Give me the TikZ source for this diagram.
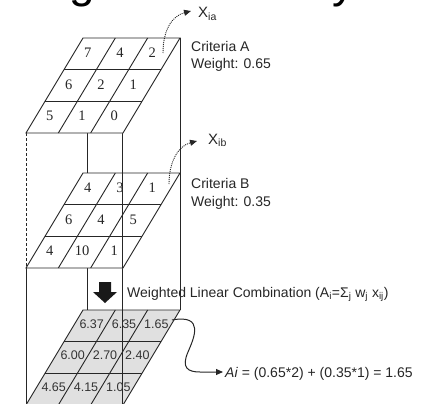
\documentclass[tikz,border=0pt]{standalone}
\usepackage{fontspec}
\setmainfont{Liberation Sans}
\newfontfamily\numserif{Liberation Serif}
\usetikzlibrary{arrows.meta}
\newcommand\gridlayer[2]{%
  \filldraw[gridline,fill=#2] (83,#1) -- ++(97,0) -- ++(-57,95) -- ++(-97,0) -- cycle;
  \foreach \k in {1,2} {
    \draw[gridline] (83-19*\k,#1+95*\k/3) -- ++(97,0);
    \draw[gridline] (83+97*\k/3,#1) -- ++(-57,95);
  }%
}
\begin{document}
\begin{tikzpicture}[x=1pt,y=-1pt,
  gridline/.style={line width=0.9pt,black!85},
  boxline/.style={line width=0.9pt,black!85},
  lbl/.style={anchor=base west,inner sep=0pt,font=\fontsize{14}{17}\selectfont,text=black!85},
  sernum/.style={inner sep=0pt,font=\numserif\fontsize{14.5}{15}\selectfont,text=black!85},
  sansnum/.style={inner sep=0pt,font=\fontsize{12.5}{13}\selectfont,text=black!80},
  curvy/.style={line width=1pt,black!85,-{Triangle[length=7pt,width=6pt]}}]
\useasboundingbox (0,0) rectangle (423,404);
\clip (0,0) rectangle (423,404);

% title fragment cut off at the top
\node[anchor=base west,inner sep=0pt,font=\fontsize{46}{46}\selectfont] (title) at (-9,-2.7) {Weighted Overlay};

% box edges
\draw[boxline] (180,38) -- (180,310);
\draw[boxline] (122,133) -- (122,404);
\draw[boxline,densely dashed] (26,133) -- (26,268);
\draw[boxline] (26,268) -- (26,404);
\draw[boxline] (87,133) -- (87,173);
\draw[boxline] (87,268) -- (87,310);

% layer A
\gridlayer{38}{white}
% layer B
\gridlayer{173}{white}
\draw[boxline] (122,173) -- (122,268);
% layer C
\gridlayer{310}{black!12}
\draw[boxline] (122,310) -- (122,404);

% numbers
\foreach \v [count=\i from 0] in {7,4,2,6,2,1,5,1,0} {
  \pgfmathtruncatemacro\r{int(\i/3)}
  \pgfmathtruncatemacro\c{mod(\i,3)}
  \node[sernum] (A-\r-\c) at ({81+97*(\c+0.5)/3-57*(\r+0.5)/3},{37+95*(\r+0.5)/3}) {\v};
}
\foreach \v [count=\i from 0] in {4,3,1,6,4,5,4,10,1} {
  \pgfmathtruncatemacro\r{int(\i/3)}
  \pgfmathtruncatemacro\c{mod(\i,3)}
  \node[sernum] (B-\r-\c) at ({81+97*(\c+0.5)/3-57*(\r+0.5)/3},{172+95*(\r+0.5)/3}) {\v};
}
\foreach \v [count=\i from 0] in {6.37,6.35,1.65,6.00,2.70,2.40,4.65,4.15,1.05} {
  \pgfmathtruncatemacro\r{int(\i/3)}
  \pgfmathtruncatemacro\c{mod(\i,3)}
  \node[sansnum] (C-\r-\c) at ({85+97*(\c+0.5)/3-57*(\r+0.5)/3},{308+95*(\r+0.5)/3}) {\v};
}

% labels
\node[lbl,font=\fontsize{15}{17}\selectfont] (Xia) at (198,18) {X\textsubscript{ia}};
\node[lbl,font=\fontsize{15}{17}\selectfont] (Xib) at (208,144) {X\textsubscript{ib}};
\node[lbl] (critA) at (191,52) {Criteria A};
\node[lbl] (wA) at (191,69) {Weight: 0.65};
\node[lbl] (critB) at (191,188) {Criteria B};
\node[lbl] (wB) at (191,206) {Weight: 0.35};
\node[lbl] (wlc) at (127,297) {Weighted Linear Combination (A\textsubscript{i}=Σ\textsubscript{j} w\textsubscript{j} x\textsubscript{ij})};
\node[lbl] (Ai) at (225,377) {\textit{Ai} = (0.65*2) + (0.35*1) = 1.65};

% connectors
\coordinate (sA) at (163,53);
\coordinate (tA) at (191,11);
\coordinate (sB) at (169,184);
\coordinate (tB) at (197,141);
\coordinate (sC) at (172,320);
\coordinate (tC) at (223,372);
\draw[curvy,densely dotted,line width=0.9pt] (sA) .. controls (163,30) and (172,16) .. (tA);
\draw[curvy,densely dotted,line width=0.9pt] (sB) .. controls (169,162) and (178,146) .. (tB);
\draw[curvy] (sC) .. controls (205,314) and (194,338) .. (188,352) .. controls (181,368) and (188,372) .. (200,372) -- (tC);

% down block arrow
\fill[black!90] (99,282) -- (111,282) -- (111,292) -- (117,292) -- (105,303) -- (93,292) -- (99,292) -- cycle;
\end{tikzpicture}
\end{document}
